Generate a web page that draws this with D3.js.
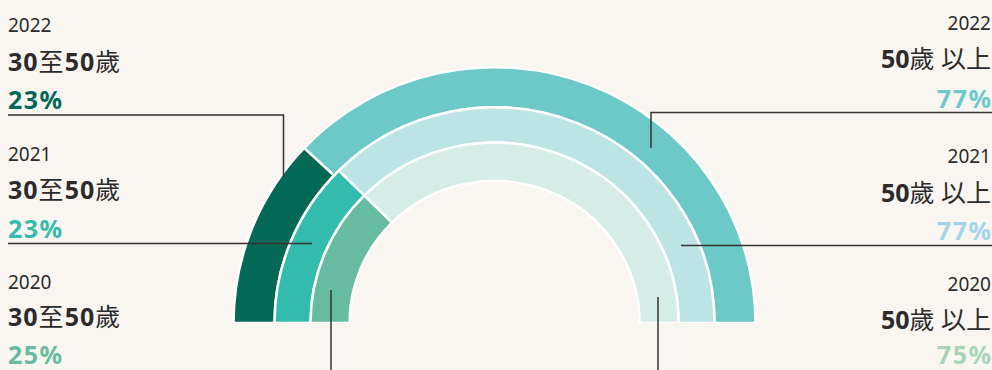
<!DOCTYPE html>
<html>
<head>
<meta charset="utf-8">
<script src="https://cdn.jsdelivr.net/npm/d3@7"></script>
<style>
  html, body { margin: 0; padding: 0; background: #F9F6F1; }
  svg { display: block; }
  text { font-family: "Noto Sans", "Noto Sans CJK TC", sans-serif; }
</style>
</head>
<body>
<svg id="chart" width="992" height="370"></svg>
<script>
// ---- data ----
const years = ["2022", "2021", "2020"];
const leftCategory = "30至50歲";
const rightCategoryNum = "50";
const rightCategoryText = "歲 以上";
const leftLabels = [23, 23, 25];          // printed %
const rightLabels = [77, 77, 75];         // printed %
const leftDrawnShare = [24, 25, 25];      // share as drawn by the arcs
const leftColors = ["#046856", "#33BBAD", "#66BBA1"];
const rightColors = ["#6CC9C7", "#BCE4E4", "#D6EDE7"];
const leftTextColors = ["#046856", "#33BBAD", "#66BBA1"];
const rightTextColors = ["#6CC9C7", "#A3D5EA", "#A8D5B7"];

// ---- layout ----
const W = 992, H = 370;
const cx = 494.5, cy = 323;
const ringRadii = [[220, 261], [184, 220], [145, 184]];   // outer ring = 2022

const svg = d3.select("#chart");
svg.append("rect").attr("width", W).attr("height", H).attr("fill", "#F9F6F1");

const angle = d3.scaleLinear().domain([0, 100]).range([-Math.PI / 2, Math.PI / 2]);
const arc = d3.arc();

const g = svg.append("g").attr("transform", `translate(${cx},${cy}) scale(1,0.98)`);

years.forEach((yr, i) => {
  const [r0, r1] = ringRadii[i];
  const mid = angle(leftDrawnShare[i]);
  g.append("path")
    .attr("d", arc({innerRadius: r0, outerRadius: r1, startAngle: angle(0), endAngle: mid}))
    .attr("fill", leftColors[i]).attr("stroke", "#fff").attr("stroke-width", 2.5);
  g.append("path")
    .attr("d", arc({innerRadius: r0, outerRadius: r1, startAngle: mid, endAngle: angle(100)}))
    .attr("fill", rightColors[i]).attr("stroke", "#fff").attr("stroke-width", 2.5);
});
// cover the stroke under the flat base
svg.append("rect").attr("x", 0).attr("y", cy).attr("width", W).attr("height", 4).attr("fill", "#F9F6F1");

// ---- leader lines ----
const lines = [
  [[8, 115], [283.5, 115], [283.5, 177]],
  [[8, 243.5], [312, 243.5]],
  [[331, 290], [331, 370]],
  [[992, 112.5], [651, 112.5], [651, 148]],
  [[992, 245.5], [681, 245.5]],
  [[658, 297], [658, 370]]
];
const lineGen = d3.line();
lines.forEach(p => svg.append("path").attr("d", lineGen(p))
  .attr("fill", "none").attr("stroke", "#333").attr("stroke-width", 1.5));

// ---- labels ----
const leftY = [[32, 71, 109], [161, 199, 238], [289, 326, 364]];
const rightY = [[29.5, 68, 108], [163, 201.5, 240], [290.5, 329, 364]];
const dark = "#2B2B2B";

years.forEach((yr, i) => {
  // left
  svg.append("text").attr("x", 8).attr("y", leftY[i][0])
    .attr("font-size", 19).attr("fill", dark).text(yr);
  const lt = svg.append("text").attr("x", 8).attr("y", leftY[i][1])
    .attr("font-size", 25).attr("fill", dark).attr("letter-spacing", 1);
  leftCategory.split(/(\d+)/).filter(s => s).forEach(s =>
    lt.append("tspan").attr("font-weight", /\d/.test(s) ? 700 : 400).text(s));
  svg.append("text").attr("x", 8).attr("y", leftY[i][2])
    .attr("font-size", 25).attr("font-weight", 700).attr("letter-spacing", 1.5)
    .attr("fill", leftTextColors[i]).text(leftLabels[i] + "%");

  // right
  svg.append("text").attr("x", 991).attr("y", rightY[i][0]).attr("text-anchor", "end")
    .attr("font-size", 19).attr("fill", dark).text(yr);
  const rt = svg.append("text").attr("x", 991).attr("y", rightY[i][1]).attr("text-anchor", "end")
    .attr("font-size", 25).attr("fill", dark);
  rt.append("tspan").attr("font-weight", 700).text(rightCategoryNum);
  rt.append("tspan").attr("font-weight", 400).text(rightCategoryText);
  svg.append("text").attr("x", 992.5).attr("y", rightY[i][2]).attr("text-anchor", "end")
    .attr("font-size", 25).attr("font-weight", 700).attr("letter-spacing", 1.5)
    .attr("fill", rightTextColors[i]).text(rightLabels[i] + "%");
});
</script>
</body>
</html>
